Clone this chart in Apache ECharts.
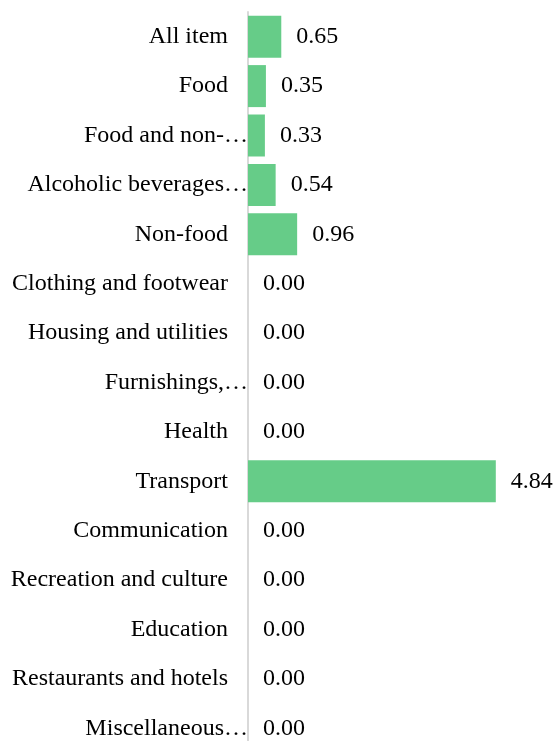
<!DOCTYPE html>
<html>
<head>
<meta charset="utf-8">
<script src="https://cdn.jsdelivr.net/npm/echarts@6/dist/echarts.min.js"></script>
<style>
    html, body { margin: 0; padding: 0; background: #fff; }
    #chart { width: 555px; height: 741px; }
</style>
</head>
<body>
<div id="chart"></div>
<script>
const categories = [
    'All item',
    'Food',
    'Food and non-…',
    'Alcoholic beverages…',
    'Non-food',
    'Clothing and footwear',
    'Housing and utilities',
    'Furnishings,…',
    'Health',
    'Transport',
    'Communication',
    'Recreation and culture',
    'Education',
    'Restaurants and hotels',
    'Miscellaneous…'
]
const values = [0.65, 0.35, 0.33, 0.54, 0.96, 0, 0, 0, 0, 4.84, 0, 0, 0, 0, 0]

const serif = '"Liberation Serif", "Times New Roman", serif'

let chart = echarts.init(document.getElementById('chart'))
chart.setOption({
    animation: false,
    textStyle: {
        fontFamily: serif
    },
    grid: {
        left: 248,
        right: 51,
        top: 12,
        height: 741,
        outerBoundsMode: 'none'
    },
    xAxis: {
        type: 'value',
        min: 0,
        max: 5,
        show: false
    },
    yAxis: {
        type: 'category',
        inverse: true,
        data: categories,
        axisLine: {
            show: true,
            lineStyle: {
                color: '#d9d9d9',
                width: 2
            }
        },
        axisTick: { show: false },
        axisLabel: {
            margin: 0,
            formatter: function (val) {
                // truncated names run right up to the axis line
                return val.endsWith('…') ? '{cut|' + val + '}' : '{full|' + val + '}'
            },
            rich: {
                full: {
                    fontSize: 24,
                    color: '#000',
                    fontFamily: serif,
                    padding: [0, 20, 0, 0]
                },
                cut: {
                    fontSize: 24,
                    color: '#000',
                    fontFamily: serif
                }
            }
        }
    },
    series: [
        {
            type: 'bar',
            data: values,
            barWidth: 42,
            itemStyle: {
                color: '#66cc88'
            },
            label: {
                show: true,
                position: 'right',
                distance: 15,
                fontSize: 24,
                color: '#000',
                fontFamily: serif,
                formatter: function (p) {
                    return p.value.toFixed(2)
                }
            }
        }
    ]
})
</script>
</body>
</html>
